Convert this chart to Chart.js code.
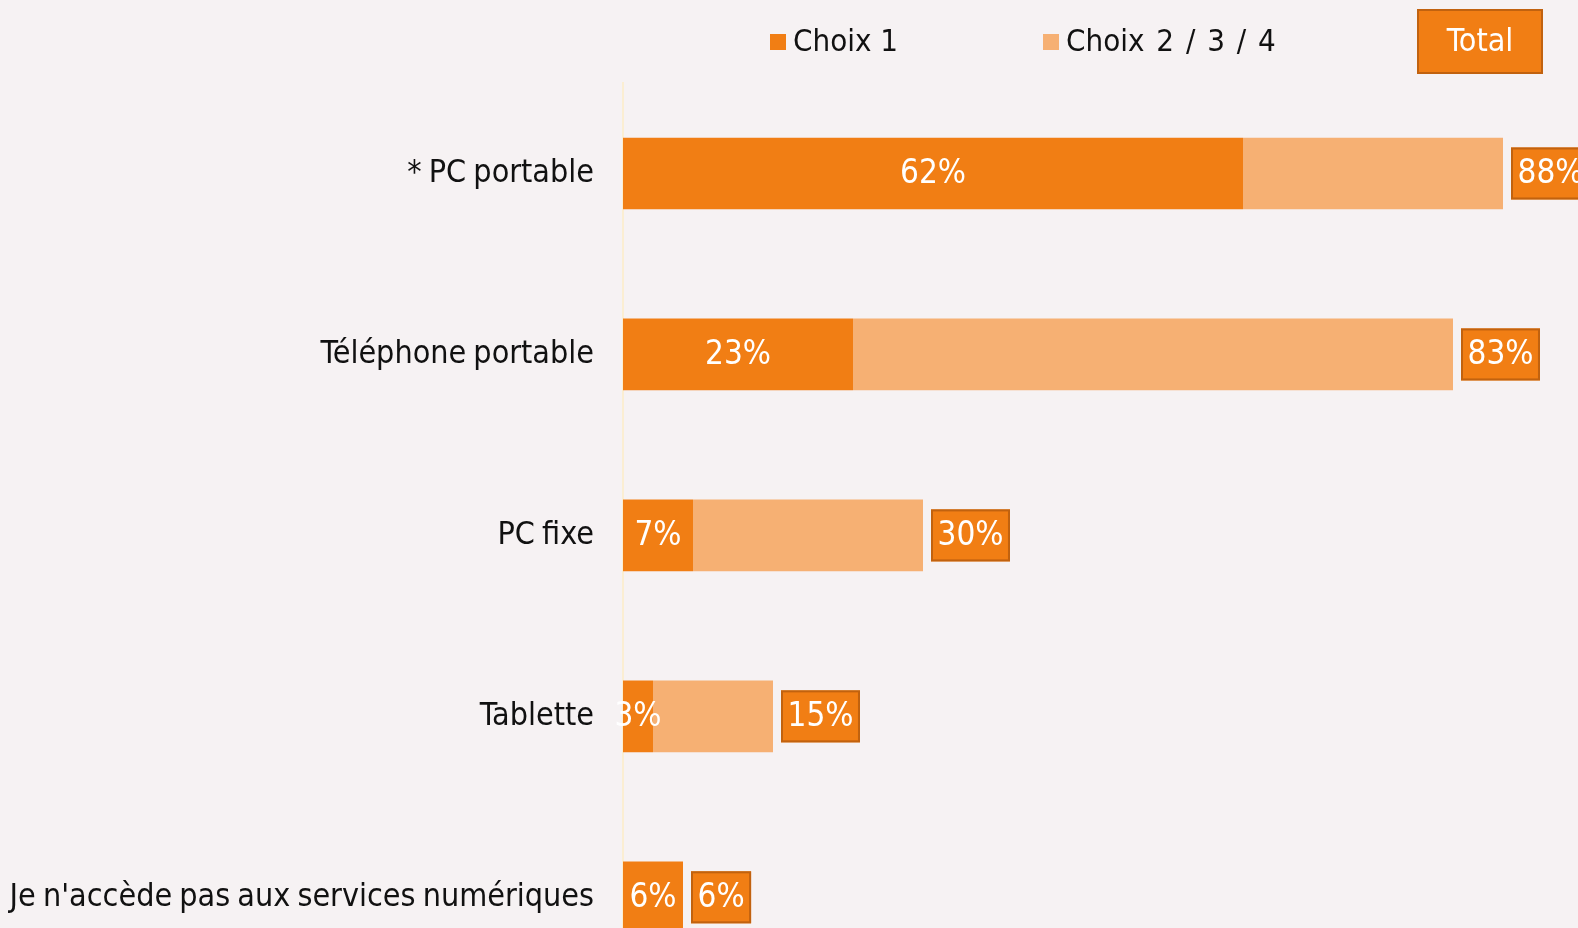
<!DOCTYPE html>
<html>
<head>
<meta charset="utf-8">
<script src="https://cdn.jsdelivr.net/npm/chart.js@4.4.1/dist/chart.umd.min.js"></script>
<style>
  html, body { margin: 0; padding: 0; background: #f6f2f3; overflow: hidden; }
  canvas { display: block; }
</style>
</head>
<body>
<canvas id="chart" width="1578" height="1036"></canvas>
<script>
const categories = ['* PC portable', 'Téléphone portable', 'PC fixe', 'Tablette', "Je n'accède pas aux services numériques"];
const choix1 = [62, 23, 7, 3, 6];
const choix234 = [26, 60, 23, 12, 0];
const totals = [88, 83, 30, 15, 6];
const seriesLabels = ['Choix 1', 'Choix 2 / 3 / 4'];
const totalLabel = 'Total';

const COLORS = {
  dark: '#f17e14',
  light: '#f6b073',
  border: '#c1620f',
  text: '#111111',
  axis: '#fbeed2'
};
const FONT = "'DejaVu Sans Condensed', 'DejaVu Sans', sans-serif";

function pct(v) {
  return v + '%';
}

// slightly tighter word gaps for the category labels
const tightWords = {
  id: 'tightWords',
  beforeDraw(chart) {
    chart.ctx.wordSpacing = '-2px';
  }
};

// labels in the Choix 1 segment, boxed totals, and the legend row
const overlay = {
  id: 'overlay',
  afterDatasetsDraw(chart) {
    const ctx = chart.ctx;
    const x = chart.scales.x;
    const meta = chart.getDatasetMeta(0);
    ctx.save();
    ctx.wordSpacing = '0px';
    ctx.textBaseline = 'middle';
    ctx.font = `33px ${FONT}`;

    meta.data.forEach((bar, i) => {
      const left = x.getPixelForValue(0);
      const mid = (left + bar.x) / 2;
      ctx.fillStyle = '#ffffff';
      ctx.textAlign = 'center';
      ctx.fillText(pct(choix1[i]), mid, bar.y + 1);

      const end = x.getPixelForValue(totals[i]);
      const txt = pct(totals[i]);
      const w = ctx.measureText(txt).width + 13;
      const h = 52;
      const bx = end + 8;
      const by = bar.y - h / 2;
      ctx.fillStyle = COLORS.dark;
      ctx.fillRect(bx, by, w, h);
      ctx.strokeStyle = COLORS.border;
      ctx.lineWidth = 2;
      ctx.strokeRect(bx + 1, by + 1, w - 2, h - 2);
      ctx.fillStyle = '#ffffff';
      ctx.fillText(txt, bx + w / 2, bar.y + 1);
    });

    // legend
    ctx.font = `31px ${FONT}`;
    ctx.textAlign = 'left';
    const legendY = 42;
    [[770, COLORS.dark, seriesLabels[0], '0px'], [1043, COLORS.light, seriesLabels[1], '3px']].forEach(([lx, col, label, ws]) => {
      ctx.fillStyle = col;
      ctx.fillRect(lx, legendY - 8, 16, 16);
      ctx.fillStyle = COLORS.text;
      ctx.wordSpacing = ws;
      ctx.fillText(label, lx + 23, legendY + 1);
    });
    ctx.wordSpacing = '0px';

    ctx.fillStyle = COLORS.dark;
    ctx.fillRect(1417, 9, 126, 65);
    ctx.strokeStyle = COLORS.border;
    ctx.lineWidth = 2;
    ctx.strokeRect(1418, 10, 124, 63);
    ctx.fillStyle = '#ffffff';
    ctx.textAlign = 'center';
    ctx.font = `32px ${FONT}`;
    ctx.fillText(totalLabel, 1480, 43);
    ctx.restore();
  }
};

new Chart(document.getElementById('chart'), {
  type: 'bar',
  data: {
    labels: categories,
    datasets: [
      { label: seriesLabels[0], data: choix1, backgroundColor: COLORS.dark, borderWidth: 0 },
      { label: seriesLabels[1], data: choix234, backgroundColor: COLORS.light, borderWidth: 0 }
    ]
  },
  options: {
    indexAxis: 'y',
    responsive: false,
    animation: false,
    layout: { padding: { top: 83, right: 0, bottom: 0, left: 0 } },
    plugins: { legend: { display: false }, tooltip: { enabled: false } },
    datasets: { bar: { barPercentage: 0.396, categoryPercentage: 1 } },
    scales: {
      x: {
        stacked: true,
        display: false,
        min: 0,
        max: 95.5
      },
      y: {
        stacked: true,
        afterFit(scale) { scale.width = 623; },
        grid: { display: false, drawTicks: false },
        border: { display: true, color: COLORS.axis, width: 2 },
        ticks: {
          color: COLORS.text,
          padding: 29,
          font: { family: FONT, size: 32 }
        }
      }
    }
  },
  plugins: [tightWords, overlay]
});
</script>
</body>
</html>
